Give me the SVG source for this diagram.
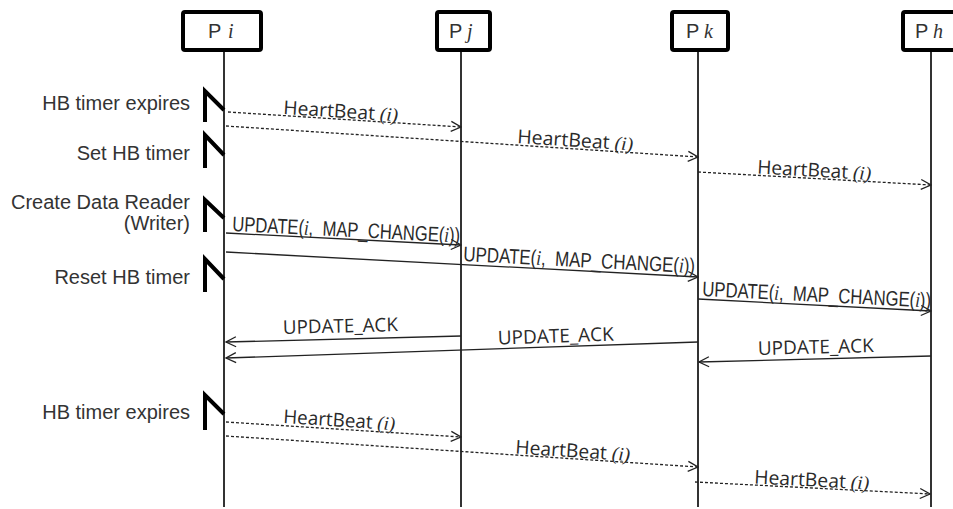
<svg xmlns="http://www.w3.org/2000/svg" width="953" height="509" viewBox="0 0 953 509">
<style>
.box{fill:#fff;stroke:#000;stroke-width:4}
.life{stroke:#333;stroke-width:2;fill:none}
.mark{stroke:#000;stroke-width:4;fill:none;stroke-linejoin:miter}
.msg{stroke:#222;stroke-width:1.3;fill:none}
.dash{stroke-dasharray:3 2}
.lbl{font-family:"Liberation Sans",Arial,sans-serif;font-size:20px;fill:#333}
.side{font-family:"Liberation Sans",Arial,sans-serif;font-size:20px;fill:#333;text-anchor:end}
.hb{font-family:"Open Sans","Noto Sans",sans-serif;font-size:19px;fill:#2a2a2a}
.up{font-family:"Liberation Sans",Arial,sans-serif;font-size:21px;fill:#2a2a2a}
.it{font-family:"Liberation Serif","Times New Roman",serif;font-style:italic}
</style>
<defs>
<marker id="arr" markerUnits="userSpaceOnUse" markerWidth="12" markerHeight="12" refX="11" refY="6" orient="auto">
<path d="M1,1 L11,6 L1,11" fill="none" stroke="#222" stroke-width="1.3"/>
</marker>
</defs>
<rect width="953" height="509" fill="#fff"/>

<g id="Pi">
<line class="life" x1="224" y1="50" x2="224" y2="507"/>
<rect class="box" x="183" y="12" width="78" height="38" rx="2"/>
<text class="lbl" x="208" y="37.5">P<tspan class="it" x="228">i</tspan></text>
</g>
<g id="Pj">
<line class="life" x1="461" y1="50" x2="461" y2="507"/>
<rect class="box" x="437" y="12" width="53" height="38" rx="2"/>
<text class="lbl" x="449" y="37.5">P<tspan class="it" x="467">j</tspan></text>
</g>
<g id="Pk">
<line class="life" x1="698" y1="50" x2="698" y2="507"/>
<rect class="box" x="672" y="12" width="56" height="38" rx="2"/>
<text class="lbl" x="686" y="37.5">P<tspan class="it" x="704">k</tspan></text>
</g>
<g id="Ph">
<line class="life" x1="931" y1="50" x2="931" y2="507"/>
<rect class="box" x="903" y="12" width="60" height="38" rx="2"/>
<text class="lbl" x="915" y="37.5">P<tspan class="it" x="933">h</tspan></text>
</g>

<g id="timers">
<path class="mark" d="M205,122 V91 L224,110"/>
<path class="mark" d="M205,168 V135 L224,155"/>
<path class="mark" d="M205,232 V200 L224,218"/>
<path class="mark" d="M205,292 V259 L224,279"/>
<path class="mark" d="M205,430 V395 L224,414"/>
<text class="side" x="190" y="110">HB timer expires</text>
<text class="side" x="190" y="160">Set HB timer</text>
<text class="side" x="190" y="209">Create Data Reader</text>
<text class="side" x="190" y="230">(Writer)</text>
<text class="side" x="190" y="284">Reset HB timer</text>
<text class="side" x="190" y="419">HB timer expires</text>
</g>

<g id="connectors">
<line class="msg dash" x1="228" y1="112" x2="461" y2="127" marker-end="url(#arr)"/>
<line class="msg dash" x1="226" y1="126" x2="698" y2="157" marker-end="url(#arr)"/>
<line class="msg dash" x1="698" y1="172" x2="931" y2="185" marker-end="url(#arr)"/>
<line class="msg" x1="226" y1="233" x2="461" y2="245" marker-end="url(#arr)"/>
<line class="msg" x1="226" y1="252" x2="698" y2="277" marker-end="url(#arr)"/>
<line class="msg" x1="698" y1="299" x2="931" y2="311" marker-end="url(#arr)"/>
<line class="msg" x1="461" y1="336" x2="226" y2="342" marker-end="url(#arr)"/>
<line class="msg" x1="698" y1="342" x2="226" y2="358" marker-end="url(#arr)"/>
<line class="msg" x1="931" y1="356" x2="699" y2="362" marker-end="url(#arr)"/>
<line class="msg dash" x1="226" y1="422" x2="461" y2="437" marker-end="url(#arr)"/>
<line class="msg dash" x1="226" y1="436" x2="698" y2="467" marker-end="url(#arr)"/>
<line class="msg dash" x1="695" y1="482" x2="930" y2="494" marker-end="url(#arr)"/>

<text class="hb" transform="translate(283,114) rotate(3.65)" textLength="115" lengthAdjust="spacingAndGlyphs">HeartBeat <tspan class="it">(i)</tspan></text>
<text class="hb" transform="translate(517,143) rotate(3.76)" textLength="116" lengthAdjust="spacingAndGlyphs">HeartBeat <tspan class="it">(i)</tspan></text>
<text class="hb" transform="translate(757,173.5) rotate(3.18)" textLength="114" lengthAdjust="spacingAndGlyphs">HeartBeat <tspan class="it">(i)</tspan></text>

<text class="up" transform="translate(232,231) rotate(2.9)" textLength="228" lengthAdjust="spacingAndGlyphs">UPDATE(<tspan class="it">i</tspan>,&#160; MAP_CHANGE(<tspan class="it">i</tspan>))</text>
<text class="up" transform="translate(463,261) rotate(3.0)" textLength="232" lengthAdjust="spacingAndGlyphs">UPDATE(<tspan class="it">i</tspan>,&#160; MAP_CHANGE(<tspan class="it">i</tspan>))</text>
<text class="up" transform="translate(702,296) rotate(2.9)" textLength="229" lengthAdjust="spacingAndGlyphs">UPDATE(<tspan class="it">i</tspan>,&#160; MAP_CHANGE(<tspan class="it">i</tspan>))</text>

<text class="hb" transform="translate(283,334) rotate(-1.46)" textLength="115" lengthAdjust="spacingAndGlyphs">UPDATE_ACK</text>
<text class="hb" transform="translate(498,344.5) rotate(-1.94)" textLength="116" lengthAdjust="spacingAndGlyphs">UPDATE_ACK</text>
<text class="hb" transform="translate(758,355) rotate(-1.47)" textLength="116" lengthAdjust="spacingAndGlyphs">UPDATE_ACK</text>

<text class="hb" transform="translate(283,423) rotate(3.65)" textLength="112" lengthAdjust="spacingAndGlyphs">HeartBeat <tspan class="it">(i)</tspan></text>
<text class="hb" transform="translate(515,453.5) rotate(3.76)" textLength="115" lengthAdjust="spacingAndGlyphs">HeartBeat <tspan class="it">(i)</tspan></text>
<text class="hb" transform="translate(754,483.5) rotate(2.9)" textLength="115" lengthAdjust="spacingAndGlyphs">HeartBeat <tspan class="it">(i)</tspan></text>
</g>
</svg>
